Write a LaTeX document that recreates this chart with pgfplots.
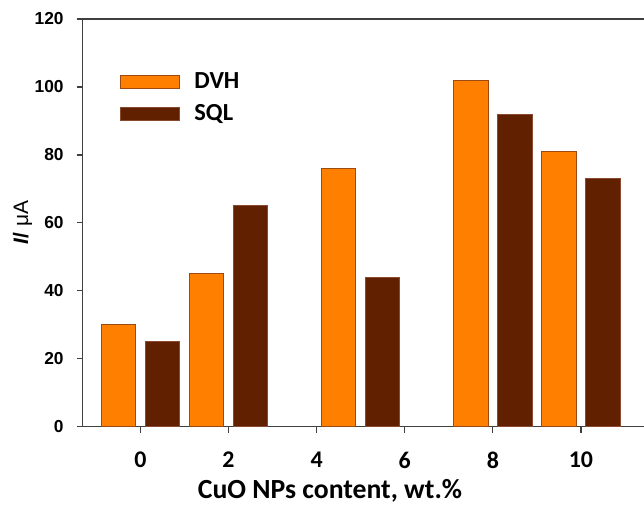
\documentclass[border=0pt]{standalone}
\usepackage{pgfplots}
\pgfplotsset{compat=1.18}
\usepackage{fontspec}
\setmainfont{Carlito}
\newfontfamily\arialfont{Liberation Sans}

\definecolor{dvh}{HTML}{FF8000}
\definecolor{dvhedge}{HTML}{9C4A12}
\definecolor{sql}{HTML}{612000}
\definecolor{sqledge}{HTML}{8A4A30}
\definecolor{spine}{HTML}{404040}

\pgfplotsset{
  barkey/.style={legend image code/.code={%
    \draw[##1] (0bp,-3.25bp) rectangle (29.5bp,3.25bp);}},
}

\begin{document}
\begin{tikzpicture}
\begin{axis}[
  scale only axis,
  width=280.65bp, height=203.85bp,
  xmin=-1.31, xmax=11.43, ymin=0, ymax=120,
  axis lines*=left,
  axis line style={spine, line width=0.6bp, -},
  xtick={0,2,4,6,8,10}, ytick={0,20,...,120},
  xtick pos=bottom, ytick pos=left,
  tick align=outside, major tick length=3bp,
  tick style={spine, line width=0.6bp},
  /pgf/number format/assume math mode=true,
  xticklabel style={font=\fontsize{12}{14}\selectfont\bfseries, yshift=-6bp},
  yticklabel style={font=\arialfont\fontsize{8.7}{10}\selectfont\bfseries, xshift=-3bp},
  xlabel={CuO NPs content, wt.\%},
  xlabel style={font=\fontsize{13.9}{16}\selectfont\bfseries,
    at={(axis description cs:0.4406,-0.158)}, anchor=center},
  ylabel={\textbf{\textit{I}/} μA},
  ylabel style={font=\arialfont\fontsize{10.5}{12}\selectfont,
    at={(axis description cs:-0.107,0.5)}, anchor=center},
  ybar, bar width=0.78,
  clip=false,
  legend cell align=left,
  legend style={draw=none, fill=none, at={(axis description cs:0.0665,0.875)},
    anchor=north west, inner sep=0pt, row sep=4.5bp, column sep=6bp,
    font=\fontsize{12.3}{14}\selectfont\bfseries,
    nodes={inner sep=1bp}},
]
\addplot[barkey, fill=dvh, draw=dvhedge, line width=0.5bp, bar shift=-0.5]
  coordinates {(0,30) (2,45) (5,76) (8,102) (10,81)};
\addplot[barkey, fill=sql, draw=sqledge, line width=0.5bp, bar shift=0.5]
  coordinates {(0,25) (2,65) (5,44) (8,92) (10,73)};
\legend{DVH, SQL}
% top frame line (the frame is open on the right)
\draw[spine, line width=0.6bp] (rel axis cs:0,1) -- (rel axis cs:1,1);
\coordinate (bbsw) at (rel axis cs:-0.1473,-0.1896);
\coordinate (bbne) at (rel axis cs:1,1.0466);
\end{axis}
\pgfresetboundingbox
\path (bbsw) rectangle (bbne);
\end{tikzpicture}
\end{document}
